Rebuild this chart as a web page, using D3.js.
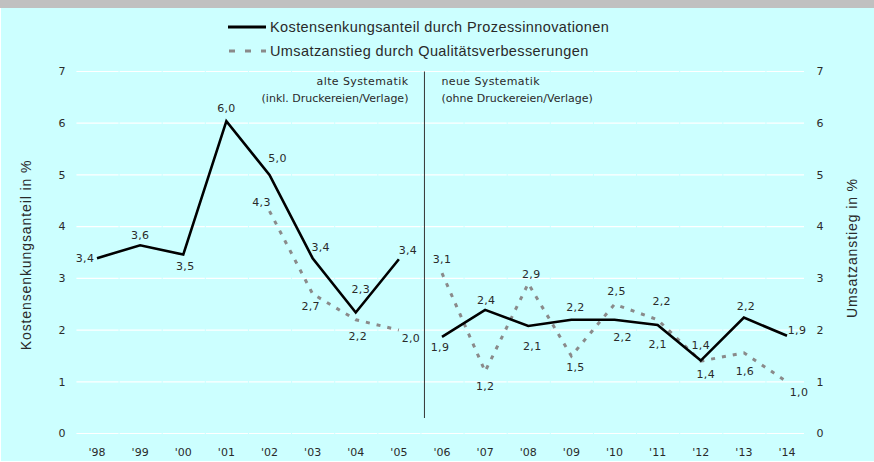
<!DOCTYPE html>
<html>
<head>
<meta charset="utf-8">
<script src="https://cdn.jsdelivr.net/npm/d3@7"></script>
<style>
  html, body { margin: 0; padding: 0; background: #fff; }
  svg { display: block; }
</style>
</head>
<body>
<div id="chart"></div>
<script>
var years = ["'98", "'99", "'00", "'01", "'02", "'03", "'04", "'05", "'06", "'07", "'08", "'09", "'10", "'11", "'12", "'13", "'14"];
var kosten = [3.39, 3.64, 3.46, 6.04, 5.0, 3.39, 2.34, 3.37, 1.87, 2.39, 2.08, 2.2, 2.2, 2.1, 1.41, 2.24, 1.89];
var umsatz = [null, null, null, null, 4.3, 2.7, 2.2, 2.0, 3.1, 1.2, 2.9, 1.5, 2.5, 2.2, 1.4, 1.56, 1.0];
var yTicks = [0, 1, 2, 3, 4, 5, 6, 7];
var breakYear = "'06"; // Wechsel alte -> neue Systematik
var seriesNames = ["Kostensenkungsanteil durch Prozessinnovationen", "Umsatzanstieg durch Qualitätsverbesserungen"];

// Lage der Wertbeschriftungen relativ zum Punkt (dx, dy)
var kostenLab = [[-12, 0], [0, -10], [2, 12], [0, -13], [8, -17], [8, -11], [5, -23], [9, -9], [-2, 10],
  [1, -10], [4, 20], [4, -13], [8, 17], [0, 19], [0, -15], [2, -12], [10, -6]];
var umsatzLab = [null, null, null, null, [-8, -9], [-2, 12], [2, 16], [12, 8], [0, -14],
  [0, 15], [3, -9], [4, 11], [2, -13], [4, -19], [5, 13], [1, 18], [12, 10]];

var W = 874, H = 462;
var svg = d3.select("#chart").append("svg")
    .attr("width", W)
    .attr("height", H);

svg.append("rect").attr("x", 0).attr("y", 0).attr("width", W).attr("height", H).attr("fill", "#fff");
svg.append("rect").attr("x", 1).attr("y", 0).attr("width", W - 1).attr("height", H - 1).attr("fill", "#CCFFFF");
svg.append("rect").attr("x", 0).attr("y", 0).attr("width", W).attr("height", 8).attr("fill", "#C0C0C0");

var x = d3.scalePoint().domain(years).range([97, 787]);
var y = d3.scaleLinear().domain([0, 7]).range([433.5, 71.5]);
var step = x.step();
var fmt = function (v) { return d3.format(".1f")(v).replace(".", ","); };
var numFont = "DejaVu Sans, Verdana, sans-serif";
var txtFont = "Liberation Sans, Arial, sans-serif";
var ink = "#2a2a2a";

// Gitterlinien, pro Jahr ein Stück
yTicks.forEach(function (t) {
    years.forEach(function (yr) {
        var a = Math.max(76, x(yr) - step / 2 + 1), b = Math.min(804, x(yr) + step / 2);
        svg.append("line")
            .attr("x1", a).attr("x2", b)
            .attr("y1", y(t)).attr("y2", y(t))
            .attr("stroke", "#fff")
            .attr("stroke-width", 1.2);
    });
});

// Achsen
svg.append("g").selectAll("text").data(yTicks).join("text")
    .attr("x", 62).attr("y", function (d) { return y(d); })
    .attr("dy", "0.35em").attr("text-anchor", "middle")
    .attr("font-family", numFont).attr("font-size", "11px").attr("fill", ink)
    .text(function (d) { return d; });
svg.append("g").selectAll("text").data(yTicks).join("text")
    .attr("x", 820).attr("y", function (d) { return y(d); })
    .attr("dy", "0.35em").attr("text-anchor", "middle")
    .attr("font-family", numFont).attr("font-size", "11px").attr("fill", ink)
    .text(function (d) { return d; });
svg.append("g").selectAll("text").data(years).join("text")
    .attr("x", function (d) { return x(d); }).attr("y", 452)
    .attr("dy", "0.35em").attr("text-anchor", "middle")
    .attr("font-family", numFont).attr("font-size", "11px").attr("fill", ink)
    .text(function (d) { return d; });

svg.append("text")
    .attr("transform", "translate(26,255) rotate(-90)")
    .attr("dy", "0.35em").attr("text-anchor", "middle")
    .attr("font-family", txtFont).attr("font-size", "14px").attr("letter-spacing", "0.9px").attr("fill", ink)
    .text("Kostensenkungsanteil in %");
svg.append("text")
    .attr("transform", "translate(852,248) rotate(-90)")
    .attr("dy", "0.35em").attr("text-anchor", "middle")
    .attr("font-family", txtFont).attr("font-size", "14px").attr("letter-spacing", "0.9px").attr("fill", ink)
    .text("Umsatzanstieg in %");

// Trennlinie alte / neue Systematik
var xb = (x(breakYear) + x(years[years.indexOf(breakYear) - 1])) / 2 + 4;
svg.append("line")
    .attr("x1", xb).attr("x2", xb)
    .attr("y1", y(7)).attr("y2", 418)
    .attr("stroke", "#333").attr("stroke-width", 1);
svg.append("text").attr("x", xb - 16).attr("y", 85).attr("text-anchor", "end")
    .attr("font-family", numFont).attr("font-size", "11px").attr("letter-spacing", "0.4px").attr("fill", ink)
    .text("alte Systematik");
svg.append("text").attr("x", xb - 16).attr("y", 102).attr("text-anchor", "end")
    .attr("font-family", numFont).attr("font-size", "11px").attr("fill", ink)
    .text("(inkl. Druckereien/Verlage)");
svg.append("text").attr("x", xb + 17).attr("y", 85)
    .attr("font-family", numFont).attr("font-size", "11px").attr("letter-spacing", "0.4px").attr("fill", ink)
    .text("neue Systematik");
svg.append("text").attr("x", xb + 17).attr("y", 102)
    .attr("font-family", numFont).attr("font-size", "11px").attr("fill", ink)
    .text("(ohne Druckereien/Verlage)");

// Linien (unterbrochen beim Wechsel der Systematik)
var bi = years.indexOf(breakYear);
function pts(vals) {
    return vals.map(function (v, i) { return { yr: years[i], v: v, i: i }; })
        .filter(function (d) { return d.v !== null; });
}
var line = d3.line()
    .x(function (d) { return x(d.yr); })
    .y(function (d) { return y(d.v); });

function drawSeries(vals, stroke, width, dash) {
    var p = pts(vals);
    [p.filter(function (d) { return d.i < bi; }), p.filter(function (d) { return d.i >= bi; })]
        .forEach(function (seg) {
            svg.append("path")
                .attr("d", line(seg))
                .attr("fill", "none")
                .attr("stroke", stroke)
                .attr("stroke-width", width)
                .attr("stroke-dasharray", dash)
                .attr("stroke-linejoin", "miter");
        });
}
drawSeries(umsatz, "#8A8A8A", 3, "4,7");
drawSeries(kosten, "#000", 2.6, null);

function drawLabels(vals, offs) {
    svg.append("g").selectAll("text").data(pts(vals)).join("text")
        .attr("x", function (d) { return x(d.yr) + offs[d.i][0]; })
        .attr("y", function (d) { return y(d.v) + offs[d.i][1]; })
        .attr("dy", "0.35em").attr("text-anchor", "middle")
        .attr("font-family", numFont).attr("font-size", "11px").attr("letter-spacing", "0.3px").attr("fill", ink)
        .text(function (d) { return fmt(d.v); });
}
drawLabels(kosten, kostenLab);
drawLabels(umsatz, umsatzLab);

// Legende
svg.append("line").attr("x1", 228).attr("x2", 266).attr("y1", 27).attr("y2", 27)
    .attr("stroke", "#000").attr("stroke-width", 3);
svg.append("text").attr("x", 270).attr("y", 27).attr("dy", "0.35em")
    .attr("font-family", txtFont).attr("font-size", "14.5px").attr("letter-spacing", "0.4px").attr("fill", ink)
    .text(seriesNames[0]);
svg.append("line").attr("x1", 229).attr("x2", 266).attr("y1", 51).attr("y2", 51)
    .attr("stroke", "#8A8A8A").attr("stroke-width", 3).attr("stroke-dasharray", "6,10");
svg.append("text").attr("x", 270).attr("y", 51).attr("dy", "0.35em")
    .attr("font-family", txtFont).attr("font-size", "14.5px").attr("letter-spacing", "0.4px").attr("fill", ink)
    .text(seriesNames[1]);
</script>
</body>
</html>
